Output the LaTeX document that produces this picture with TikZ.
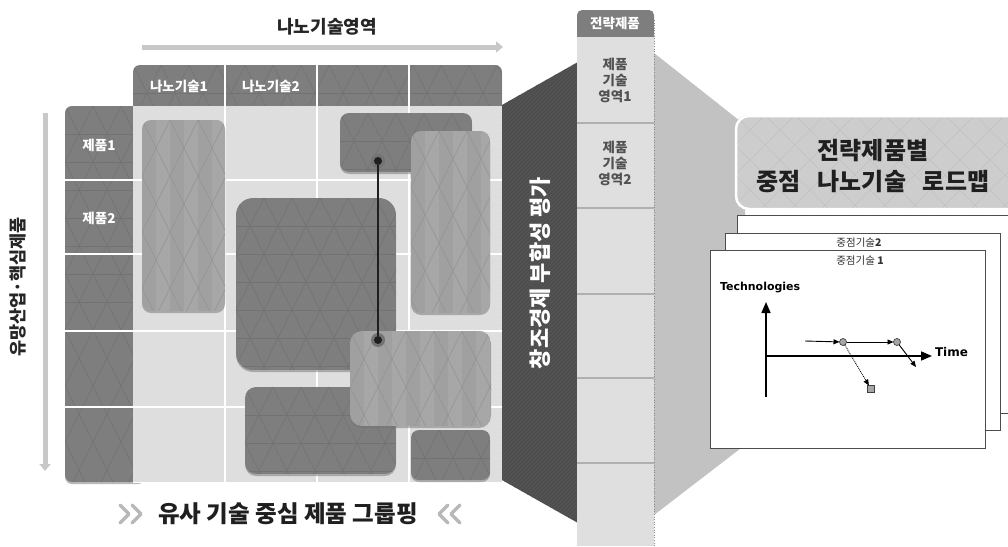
\documentclass[tikz,border=0pt]{standalone}
\usepackage{fontspec}
\setmainfont{Noto Sans CJK KR}
\newfontfamily\dejavu{DejaVu Sans}
\usetikzlibrary{arrows.meta}
\definecolor{gridbg}{HTML}{DEDEDE}
\definecolor{cellD}{HTML}{7E7E7E}
\definecolor{cellDline}{HTML}{727272}
\definecolor{boxL}{HTML}{A0A0A0}
\definecolor{boxLs}{HTML}{A7A7A7}
\definecolor{boxLline}{HTML}{939393}
\definecolor{trapD}{HTML}{4E4E4E}
\definecolor{trapDline}{HTML}{585858}
\definecolor{trapL}{HTML}{C2C2C2}
\definecolor{colbg}{HTML}{DFDFDF}
\definecolor{coldiv}{HTML}{B0B0B0}
\definecolor{arrowg}{HTML}{C8C8C8}
\definecolor{titlebg}{HTML}{CDCDCD}
\definecolor{titleline}{HTML}{C2C2C2}
\newcommand\dkbox[5]{%
  \fill[black!55,opacity=0.5,rounded corners=#5] (#1,#2+2) rectangle (#3,#4+2);
  \begin{scope}
  \clip[rounded corners=#5] (#1,#2) rectangle (#3,#4);
  \fill[cellD] (#1,#2) rectangle (#3,#4);
  \foreach \k in {-16,...,16}{
    \draw[cellDline,line width=0.5pt] ({#1+\k*28},#2) -- ++(220,440);
    \draw[cellDline,line width=0.5pt] ({#1+\k*28},#2) -- ++(-220,440);
  }
  \foreach \k in {1,...,8}{
    \draw[cellDline,line width=0.5pt] (#1,{#2+\k*28}) -- (#3,{#2+\k*28});
  }
  \end{scope}}
\newcommand\ltbox[5]{%
  \fill[black!55,opacity=0.5,rounded corners=#5] (#1,#2+2) rectangle (#3,#4+2);
  \begin{scope}
  \clip[rounded corners=#5] (#1,#2) rectangle (#3,#4);
  \fill[boxL] (#1,#2) rectangle (#3,#4);
  \foreach \k in {0,...,10}{
    \fill[boxLs] ({#1+\k*28+14},#2) rectangle ({#1+\k*28+28},#4);
  }
  \foreach \k in {-16,...,16}{
    \draw[boxLline,line width=0.5pt] ({#1+\k*28},#2) -- ++(220,440);
    \draw[boxLline,line width=0.5pt] ({#1+\k*28},#2) -- ++(-220,440);
  }
  \end{scope}}
\tikzset{
  hdr/.style={font=\fontsize{13.5}{15}\selectfont\bfseries, text=white},
  celltxt/.style={font=\fontsize{13.5}{16}\selectfont\bfseries, text=black!68, align=center},
  dotouter/.style={circle, fill=black!55, minimum size=14pt},
  dotinner/.style={circle, fill=black!88, minimum size=8pt},
  panel/.style={draw=black!70, fill=white, line width=1pt},
  axis/.style={line width=1.6pt, -{Triangle[length=11pt,width=9pt]}},
  small/.style={line width=0.9pt, -{Triangle[length=6pt,width=5pt]}},
  pt/.style={circle, draw=black!75, fill=black!35, minimum size=7pt, line width=0.7pt},
  bigarrow/.style={arrowg, line width=5pt, -{Triangle[length=7pt,width=11pt]}},
  chev/.style={black!28, line width=3.5pt, line cap=round, line join=round}
}
\begin{document}
\begin{tikzpicture}[x=1pt,y=-1pt, every node/.style={inner sep=0pt, outer sep=0pt}]
\useasboundingbox (0,0) rectangle (1008,546);
\fill[white] (0,0) rectangle (1008,546);

% top arrow
\node[font=\fontsize{18}{20}\selectfont\bfseries, text=black!85] (toplbl) at (327,27) {나노기술영역};
\coordinate (ta1) at (142,47); \coordinate (ta2) at (503,47);
\draw[bigarrow] (ta1) -- (ta2);
% left arrow
\coordinate (la1) at (45,113); \coordinate (la2) at (45,471);
\draw[bigarrow] (la1) -- (la2);
\node[rotate=90, font=\fontsize{17.5}{18}\selectfont\bfseries, text=black!85] (leftlbl) at (18,287) {유망산업·핵심제품};

% header and left column
\dkbox{133}{65}{502}{120}{7pt}
\dkbox{65}{106}{145}{482}{7pt}
% grid
\fill[gridbg] (133,106) rectangle (502,482);
\foreach \x in {225,317,409} \draw[white, line width=2pt] (\x,65) -- (\x,482);
\foreach \y in {180,254,331,407} \draw[white, line width=2pt] (65,\y) -- (502,\y);
\draw[white, line width=1pt] (133,482) -- (502,482);
\node[hdr] (h1) at (179,86) {나노기술1};
\node[hdr] (h2) at (271,86) {나노기술2};
\node[hdr] (r1) at (99,145) {제품1};
\node[hdr] (r2) at (99,218) {제품2};

% groups
\ltbox{142}{120}{225}{311}{9pt}
\dkbox{340}{113}{472}{172}{9pt}
\ltbox{411}{131}{490}{313}{10pt}
\dkbox{236}{198}{396}{370}{17pt}
\dkbox{245}{387}{396}{474}{11pt}
\ltbox{350}{331}{491}{426}{12pt}
\dkbox{411}{430}{490}{480}{8pt}

% connector
\node[dotouter] (d1h) at (378,161) {};
\node[dotouter] (d2h) at (378,340) {};
\node[dotinner] (d1) at (378,161) {};
\node[dotinner] (d2) at (378,340) {};
\draw[black!88, line width=1.3pt] (d1) -- (d2);

% dark trapezoid
\begin{scope}
\clip (502,105) -- (578,62) -- (578,523) -- (502,480) -- cycle;
\fill[trapD] (490,50) rectangle (590,530);
\foreach \k in {0,...,140} \draw[trapDline, line width=0.6pt] (490,{40+\k*4}) -- ++(100,-100);
\end{scope}
\node[rotate=90, font=\fontsize{22}{24}\selectfont\bfseries, text=white] (eval) at (540,273) {창조경제 부합성 평가};

% light trapezoid
\fill[trapL] (654,53) -- (745,125) -- (745,445) -- (654,515) -- cycle;

% strategic product column
\fill[cellD, rounded corners=5pt] (577,10) rectangle (654,50);
\fill[colbg] (577,37) rectangle (654,546);
\foreach \y in {123,208,294,378,463} \draw[coldiv, line width=1.5pt] (577,\y) -- (654,\y);
\draw[black!45, line width=0.6pt, dotted] (654,20) -- (654,546);
\node[hdr] (sp) at (615,23) {전략제품};
\node[celltxt] (c1) at (615,80) {제품\\기술\\영역1};
\node[celltxt] (c2) at (615,163) {제품\\기술\\영역2};

% roadmap title
\begin{scope}
\clip[rounded corners=13pt] (735,115) rectangle (1030,210);
\fill[titlebg] (735,115) rectangle (1030,210);
\foreach \k in {-14,...,14}{
  \draw[titleline,line width=0.5pt] ({735+\k*30},115) -- ++(100,100);
  \draw[titleline,line width=0.5pt] ({735+\k*30},115) -- ++(-100,100);
}
\end{scope}
\draw[white, line width=2.5pt, rounded corners=13pt] (736,116) rectangle (1030,209);
\node[font=\fontsize{24}{31}\selectfont\bfseries, text=black!88, align=center] (title) at (873,166) {전략제품별\\중점\hspace{0.7em}나노기술\hspace{0.7em}로드맵};

% panels
\draw[panel] (737,215) rectangle (1030,413);
\draw[panel] (725,233) rectangle (1000,430);
\node[font=\fontsize{10.5}{12}\selectfont, text=black!80] (p2t) at (859,243) {중점기술\textbf{2}};
\draw[panel] (710,250) rectangle (985,448);
\node[font=\fontsize{10.5}{12}\selectfont, text=black!80] (p1t) at (860,261) {중점기술 \textbf{1}};

% chart
\node[font=\dejavu\fontsize{11}{13}\selectfont\bfseries, anchor=west] (tech) at (720,288) {Technologies};
\coordinate (o) at (766,356);
\coordinate (yb) at (766,397);
\coordinate (yt) at (766,302);
\coordinate (xt) at (932,356);
\draw[axis] (yb) -- (yt);
\draw[axis] (o) -- (xt);
\node[font=\dejavu\fontsize{12}{14}\selectfont\bfseries, anchor=west] (time) at (935,352) {Time};
\node[pt] (p1) at (843,342) {};
\node[pt] (p2) at (897,342) {};
\node[draw=black!75, fill=black!35, minimum size=7pt, line width=0.7pt] (sq) at (871,389) {};
\coordinate (s0) at (805,341);
\coordinate (e2) at (916,367);
\draw[small] (s0) -- (p1);
\draw[small] (p1) -- (p2);
\draw[small] (p2) -- (e2);
\draw[small, densely dotted] (p1) -- (sq);

% caption
\node[font=\fontsize{23.5}{26}\selectfont\bfseries, text=black!88] (cap) at (288,514) {유사 기술 중심 제품 그룹핑};
\coordinate (ca1) at (120,505); \coordinate (ca2) at (129,514); \coordinate (ca3) at (120,523);
\coordinate (cb1) at (132,505); \coordinate (cb2) at (141,514); \coordinate (cb3) at (132,523);
\draw[chev] (ca1) -- (ca2) -- (ca3);
\draw[chev] (cb1) -- (cb2) -- (cb3);
\coordinate (cc1) at (448,505); \coordinate (cc2) at (439,514); \coordinate (cc3) at (448,523);
\coordinate (cd1) at (460,505); \coordinate (cd2) at (451,514); \coordinate (cd3) at (460,523);
\draw[chev] (cc1) -- (cc2) -- (cc3);
\draw[chev] (cd1) -- (cd2) -- (cd3);
\end{tikzpicture}
\end{document}
